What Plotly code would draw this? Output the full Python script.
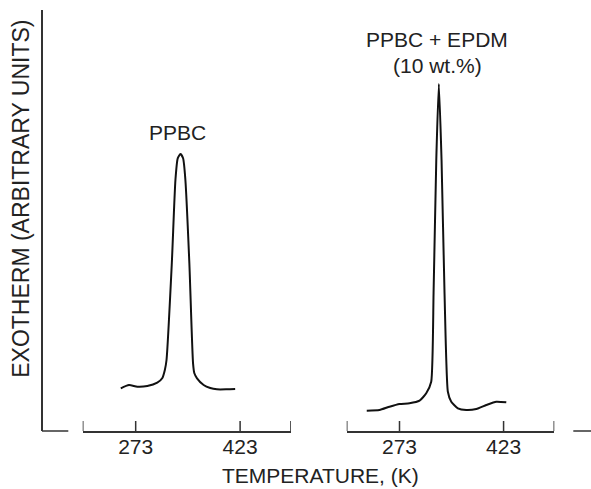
import plotly.graph_objects as go

# PPBC curve (temperature K, exotherm arbitrary units)
ppbc_T = [251.6, 263.4, 275.4, 289.7, 304.0, 311.1, 314.9, 317.3, 324.9, 330.1, 333.4,
          337.3, 341.1, 344.4, 350.1, 355.4, 357.3, 361.1, 370.6, 380.1, 389.6, 404.0, 415.9]
ppbc_H = [42.7, 46.0, 44.3, 45.0, 48.3, 52.7, 61.0, 71.0, 167.7, 251.0, 272.7,
          277.0, 272.7, 251.0, 167.7, 67.7, 57.7, 52.7, 46.0, 43.0, 41.7, 41.7, 42.0]

# PPBC + EPDM (10 wt.%) curve
blend_T = [225.8, 244.1, 258.6, 273.0, 287.4, 301.9, 311.5, 318.7, 322.1, 326.0, 329.7,
           333.6, 337.9, 342.7, 347.6, 357.1, 369.2, 383.7, 398.1, 412.5, 426.9]
blend_H = [20.3, 21.0, 24.3, 27.0, 27.7, 30.3, 37.7, 49.3, 137.7, 271.0, 347.0,
           271.0, 137.7, 39.3, 29.3, 22.7, 21.0, 22.0, 26.0, 29.3, 28.7]

x_range = [196.9, 496.1]
y_range = [0, 421]
tick_vals = [197, 273, 423, 496]
tick_text = ["", "273", "423", ""]

FONT = "Liberation Sans, Arial, Helvetica, sans-serif"
AX = "#333333"
INK = "#111111"
TXT = "#222222"

W, H = 591, 489
L, R, T, B = 42, 0, 10, 58
PW, PH = W - L - R, H - T - B


def px(x):
    return (x - L) / PW


def py(y):
    return (H - B - y) / PH


fig = go.Figure()
fig.add_trace(go.Scatter(x=ppbc_T, y=ppbc_H, mode="lines", xaxis="x", yaxis="y",
                         line=dict(color=INK, width=2, shape="spline", smoothing=0.6),
                         showlegend=False, hoverinfo="skip"))
fig.add_trace(go.Scatter(x=blend_T, y=blend_H, mode="lines", xaxis="x2", yaxis="y",
                         line=dict(color=INK, width=2, shape="spline", smoothing=0.5),
                         showlegend=False, hoverinfo="skip"))

axis_common = dict(range=x_range, tickmode="array", tickvals=tick_vals, ticktext=tick_text,
                   ticks="", showline=True, linecolor=AX, linewidth=1.5, showgrid=False,
                   zeroline=False, tickfont=dict(family=FONT, size=21, color=TXT),
                   ticklabelstandoff=-4, fixedrange=True)

shapes = [
    dict(type="line", xref="paper", yref="paper", x0=0, x1=px(68.3), y0=0, y1=0,
         line=dict(color=AX, width=1.5)),
    dict(type="line", xref="paper", yref="paper", x0=px(573.3), x1=1.0, y0=0, y1=0,
         line=dict(color=AX, width=1.5)),
]
# upward tick marks (10 px long) at each tick value on both temperature axes
for xr in ("x", "x2"):
    for tv in tick_vals:
        shapes.append(dict(type="line", xref=xr, yref="y", x0=tv, x1=tv, y0=0, y1=10,
                           line=dict(color=AX, width=1.5)))


def ann(text, x, y, size=21, angle=0):
    return dict(text=text, x=px(x), y=py(y), xref="paper", yref="paper", showarrow=False,
                xanchor="center", yanchor="middle", textangle=angle,
                font=dict(family=FONT, size=size, color=TXT))


fig.update_layout(
    width=W, height=H,
    margin=dict(l=L, r=R, t=T, b=B),
    paper_bgcolor="white", plot_bgcolor="white",
    xaxis=dict(domain=[px(82.7), px(291)], anchor="y", **axis_common),
    xaxis2=dict(domain=[px(346.7), px(554.3)], anchor="y", **axis_common),
    yaxis=dict(range=y_range, anchor="free", position=0, showline=True, linecolor=AX,
               linewidth=1.5, showticklabels=False, ticks="", showgrid=False,
               zeroline=False, fixedrange=True),
    shapes=shapes,
    annotations=[
        ann("PPBC", 177.5, 132.5),
        ann("PPBC + EPDM", 436.7, 39.5),
        ann("(10 wt.%)", 437.2, 65),
        ann("TEMPERATURE, (K)", 320.5, 476),
        ann("EXOTHERM (ARBITRARY UNITS)", 20.8, 199, size=23, angle=-90),
    ],
)

fig.write_html("out.html", config={"displayModeBar": False},
               post_script="document.body.style.margin='0';")
